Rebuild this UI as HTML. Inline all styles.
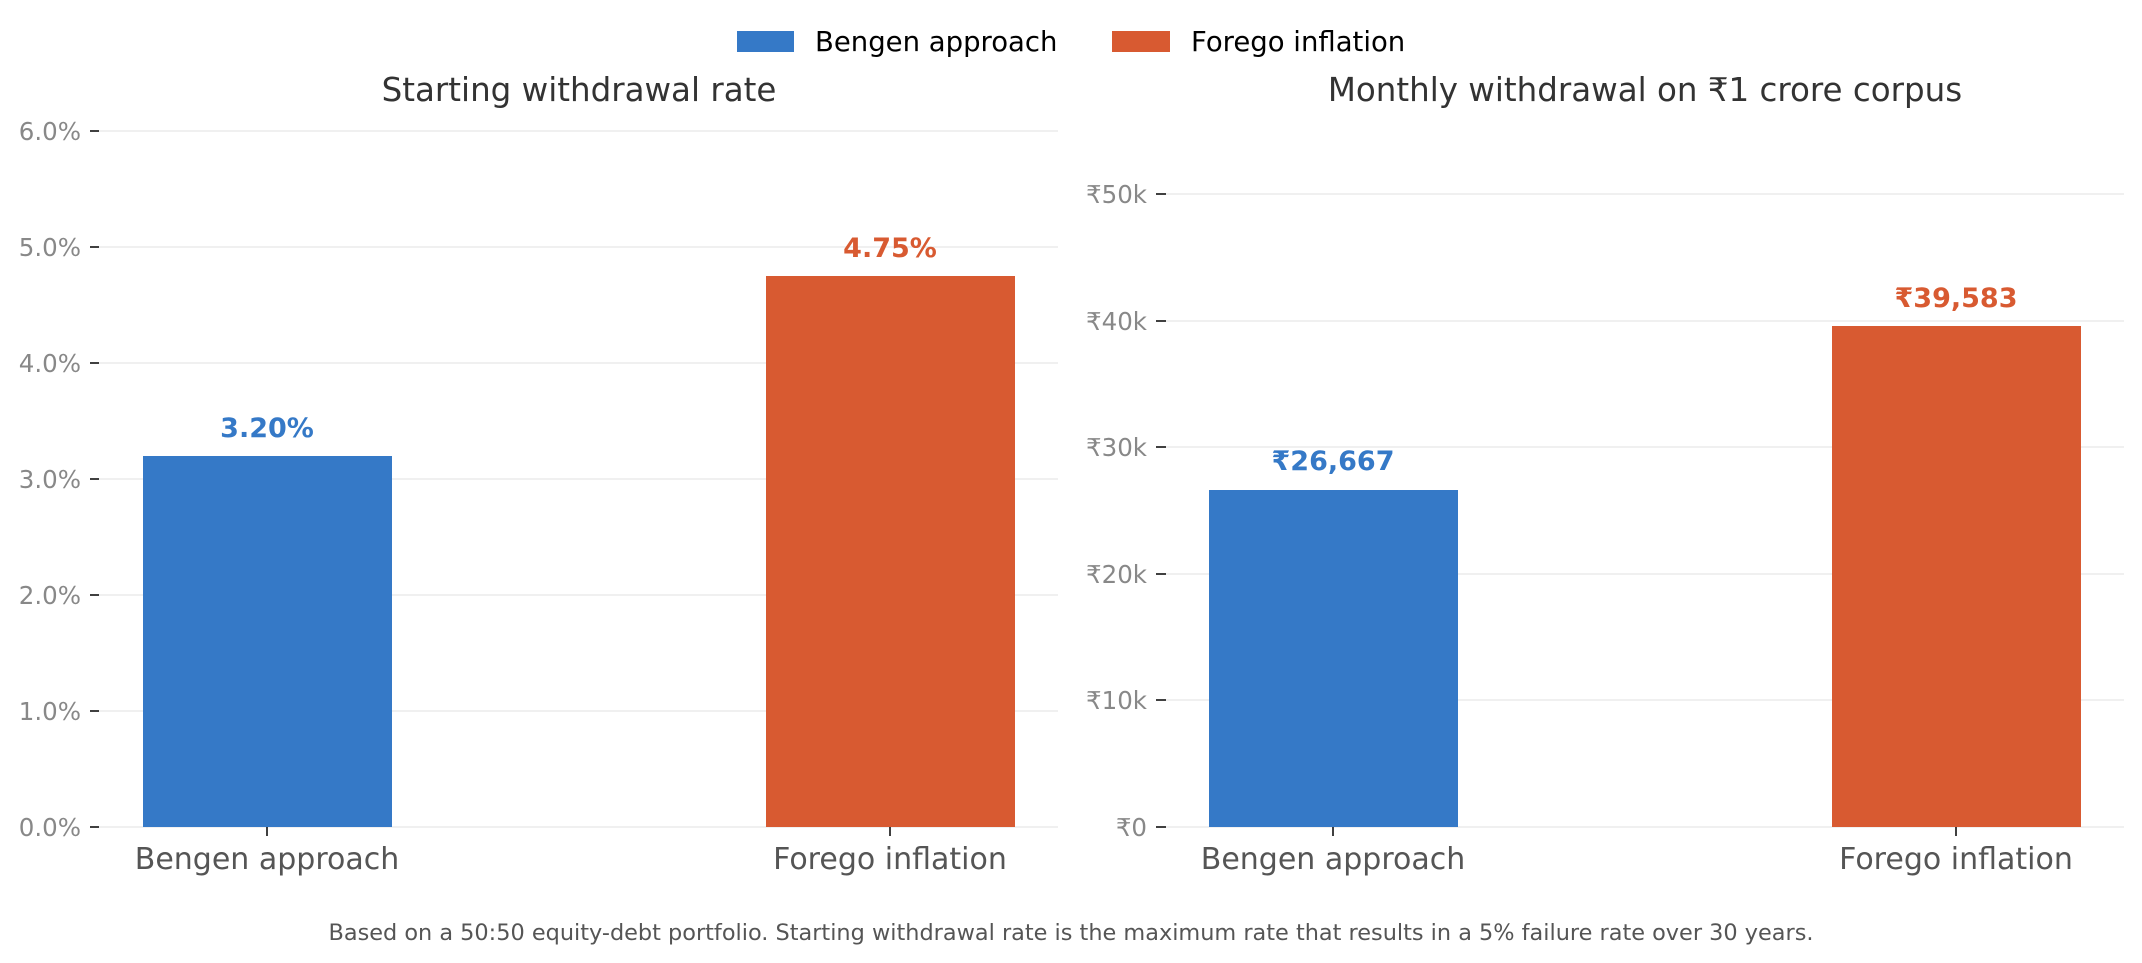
<!DOCTYPE html>
<html><head><meta charset="utf-8"><style>
html,body{margin:0;padding:0;background:#fff;}
svg{display:block;font-family:"DejaVu Sans","Liberation Sans",sans-serif;}
</style></head><body>
<svg width="2142" height="963" viewBox="0 0 2142 963" xmlns="http://www.w3.org/2000/svg">
<!-- legend -->
<rect x="737" y="31" width="57" height="21" fill="#3579c7"/>
<text x="815" y="51" font-size="27.5" fill="#000">Bengen approach</text>
<rect x="1112" y="31" width="58" height="21" fill="#d85a31"/>
<text x="1191" y="51" font-size="27.5" fill="#000">Forego inflation</text>

<!-- LEFT PANEL -->
<text x="579" y="101" font-size="32.5" fill="#333" text-anchor="middle">Starting withdrawal rate</text>
<g stroke="#ebebeb" stroke-width="1.5">
<line x1="99" y1="131" x2="1058" y2="131"/>
<line x1="99" y1="247" x2="1058" y2="247"/>
<line x1="99" y1="363" x2="1058" y2="363"/>
<line x1="99" y1="479" x2="1058" y2="479"/>
<line x1="99" y1="595" x2="1058" y2="595"/>
<line x1="99" y1="711" x2="1058" y2="711"/>
<line x1="99" y1="827" x2="1058" y2="827"/>
</g>
<g stroke="#000" stroke-width="1.5">
<line x1="90" y1="131" x2="99" y2="131"/><line x1="90" y1="247" x2="99" y2="247"/>
<line x1="90" y1="363" x2="99" y2="363"/><line x1="90" y1="479" x2="99" y2="479"/>
<line x1="90" y1="595" x2="99" y2="595"/><line x1="90" y1="711" x2="99" y2="711"/>
<line x1="90" y1="827" x2="99" y2="827"/>
<line x1="267" y1="827" x2="267" y2="836"/><line x1="890" y1="827" x2="890" y2="836"/>
</g>
<g font-size="24.5" fill="#888" text-anchor="end">
<text x="81" y="140">6.0%</text><text x="81" y="256">5.0%</text>
<text x="81" y="372">4.0%</text><text x="81" y="488">3.0%</text>
<text x="81" y="604">2.0%</text><text x="81" y="720">1.0%</text>
<text x="81" y="836">0.0%</text>
</g>
<rect x="143" y="456" width="249" height="371" fill="#3579c7"/>
<rect x="766" y="276" width="249" height="551" fill="#d85a31"/>
<text x="267" y="437" font-size="27" font-weight="bold" fill="#3579c7" text-anchor="middle">3.20%</text>
<text x="890" y="257" font-size="27" font-weight="bold" fill="#d85a31" text-anchor="middle">4.75%</text>
<g font-size="30" fill="#555" text-anchor="middle">
<text x="267" y="869">Bengen approach</text>
<text x="890" y="869">Forego inflation</text>
</g>

<!-- RIGHT PANEL -->
<text x="1645" y="101" font-size="32.5" fill="#333" text-anchor="middle">Monthly withdrawal on ₹1 crore corpus</text>
<g stroke="#ebebeb" stroke-width="1.5">
<line x1="1166" y1="194" x2="2124" y2="194"/>
<line x1="1166" y1="321" x2="2124" y2="321"/>
<line x1="1166" y1="447" x2="2124" y2="447"/>
<line x1="1166" y1="574" x2="2124" y2="574"/>
<line x1="1166" y1="700" x2="2124" y2="700"/>
<line x1="1166" y1="827" x2="2124" y2="827"/>
</g>
<g stroke="#000" stroke-width="1.5">
<line x1="1156" y1="194" x2="1166" y2="194"/><line x1="1156" y1="321" x2="1166" y2="321"/>
<line x1="1156" y1="447" x2="1166" y2="447"/><line x1="1156" y1="574" x2="1166" y2="574"/>
<line x1="1156" y1="700" x2="1166" y2="700"/><line x1="1156" y1="827" x2="1166" y2="827"/>
<line x1="1333" y1="827" x2="1333" y2="836"/><line x1="1956" y1="827" x2="1956" y2="836"/>
</g>
<g font-size="24.5" fill="#888" text-anchor="end">
<text x="1147" y="203">₹50k</text><text x="1147" y="330">₹40k</text>
<text x="1147" y="456">₹30k</text><text x="1147" y="583">₹20k</text>
<text x="1147" y="709">₹10k</text><text x="1147" y="836">₹0</text>
</g>
<rect x="1209" y="490" width="249" height="337" fill="#3579c7"/>
<rect x="1832" y="326" width="249" height="501" fill="#d85a31"/>
<text x="1333" y="470" font-size="27" font-weight="bold" fill="#3579c7" text-anchor="middle">₹26,667</text>
<text x="1956" y="307" font-size="27" font-weight="bold" fill="#d85a31" text-anchor="middle">₹39,583</text>
<g font-size="30" fill="#555" text-anchor="middle">
<text x="1333" y="869">Bengen approach</text>
<text x="1956" y="869">Forego inflation</text>
</g>

<text x="1071" y="940" font-size="22.4" fill="#555" text-anchor="middle">Based on a 50:50 equity-debt portfolio. Starting withdrawal rate is the maximum rate that results in a 5% failure rate over 30 years.</text>
</svg>
</body></html>
